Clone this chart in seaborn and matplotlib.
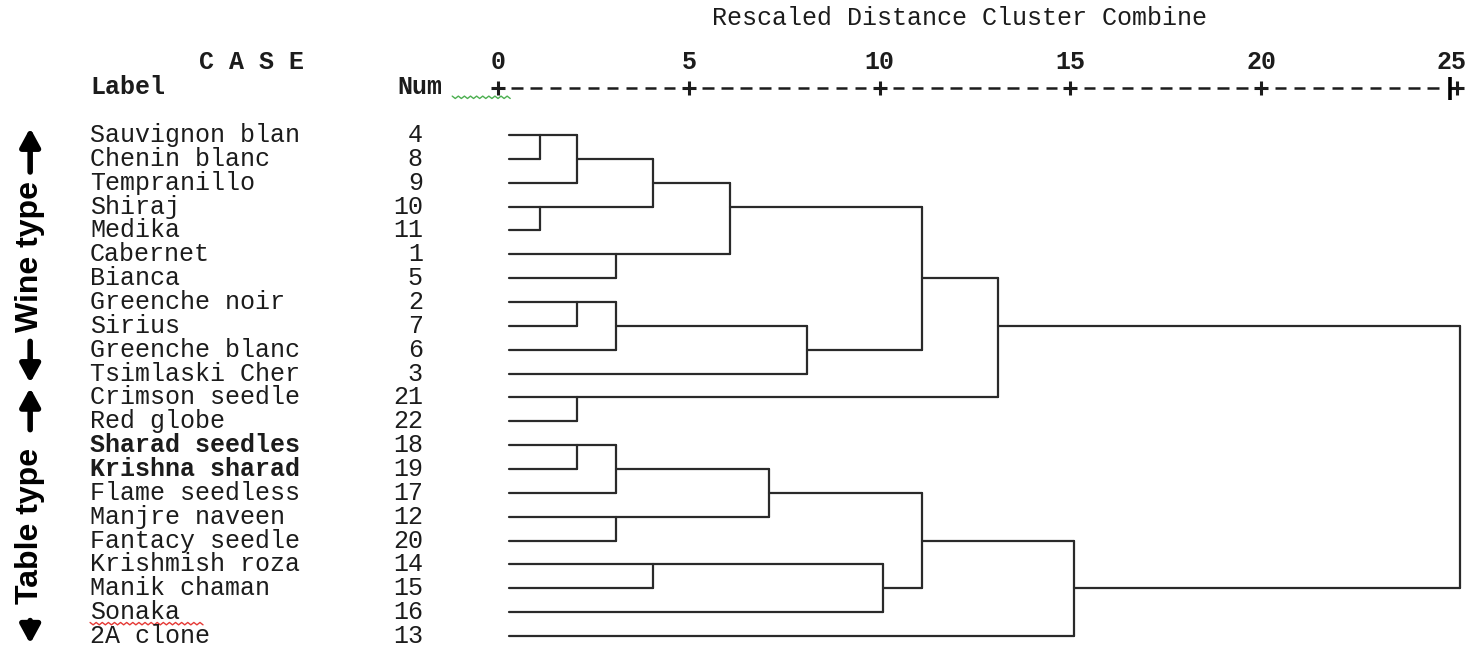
import numpy as np
import pandas as pd
import matplotlib
matplotlib.use("Agg")
import matplotlib.pyplot as plt
import seaborn as sns

# ---------------- data ----------------
labels = ["Sauvignon blan", "Chenin blanc", "Tempranillo", "Shiraj", "Medika",
          "Cabernet", "Bianca", "Greenche noir", "Sirius", "Greenche blanc",
          "Tsimlaski Cher", "Crimson seedle", "Red globe", "Sharad seedles",
          "Krishna sharad", "Flame seedless", "Manjre naveen", "Fantacy seedle",
          "Krishmish roza", "Manik chaman", "Sonaka", "2A clone"]
case_nums = [4, 8, 9, 10, 11, 1, 5, 2, 7, 6, 3, 21, 22, 18, 19, 17, 12, 20, 14, 15, 16, 13]

# agglomeration schedule (leaf ids 0..21 in display order, merged clusters 22..)
merge_a = [0, 3, 7, 11, 13, 22, 5, 24, 26, 16, 18, 27, 33, 30, 29, 32, 34, 35, 38, 39, 40]
merge_b = [1, 4, 8, 12, 14, 2, 6, 9, 15, 17, 19, 23, 28, 31, 10, 20, 36, 37, 25, 21, 41]
merge_h = [1.1, 1.1, 2.07, 2.07, 2.07, 2.07, 3.1, 3.1, 3.1, 3.1, 4.07, 4.07,
           6.09, 7.1, 8.1, 10.1, 11.1, 11.1, 13.1, 15.1, 25.2]

axis_ticks = [0, 5, 10, 15, 20, 25]
title = "Rescaled Distance Cluster Combine"
group_names = ["Wine type", "Table type"]

# ---------------- style ----------------
sns.set_theme(style="white")
plt.rcParams["font.family"] = ["Liberation Mono", "DejaVu Sans Mono"]

W, H = 1471, 647
fig = plt.figure(figsize=(W / 100, H / 100), dpi=100)
ax = fig.add_axes([0, 0, 1, 1])

# pixel-calibrated limits: x=0 at px 498, 38.16 px per unit; row 0 at px 135, 23.86 px per row
px_unit, x0_px = 38.16, 498.0
row_px, r0_px = 23.86, 135.0
xlim = (-x0_px / px_unit, (W - x0_px) / px_unit)
ylim = ((H - r0_px) / row_px, -r0_px / row_px)

# ---------------- dendrogram segments ----------------
leaf_start = 0.3
n = len(labels)
node_x = {i: leaf_start for i in range(n)}
node_r = {i: i for i in range(n)}
rows = []
seg = 0
for k, (a, b, h) in enumerate(zip(merge_a, merge_b, merge_h)):
    ra, rb = node_r[a], node_r[b]
    for (xs, ys) in [((node_x[a], h), (ra, ra)),
                     ((node_x[b], h), (rb, rb)),
                     ((h, h), (ra, rb))]:
        for xx, yy in zip(xs, ys):
            rows.append({"seg": seg, "x": xx, "y": yy})
        seg += 1
    node_x[n + k] = h
    node_r[n + k] = (min(ra, rb) + max(ra, rb)) // 2
seg_df = pd.DataFrame(rows)

line_col = "#2a2a2a"
sns.lineplot(data=seg_df, x="x", y="y", units="seg", estimator=None, sort=False,
             color=line_col, linewidth=1.6, ax=ax, legend=False)

# ---------------- text columns ----------------
txt_col = "#1c1c1c"
fs = 18
for i, (lab, num) in enumerate(zip(labels, case_nums)):
    bold = lab in ("Sharad seedles", "Krishna sharad")
    ax.text(-10.69, i, lab, ha="left", va="center", fontsize=fs, color=txt_col,
            fontweight="bold" if bold else "normal")
    ax.text(-1.97, i, str(num), ha="right", va="center", fontsize=fs, color=txt_col)

# header
ax.text(12.1, -4.9, title, ha="center", va="center", fontsize=fs, color=txt_col)
ax.text(-6.47, -3.06, "C A S E", ha="center", va="center", fontsize=fs,
        color=txt_col, fontweight="bold")
ax.text(-10.69, -2.01, "Label", ha="left", va="center", fontsize=fs, color=txt_col,
        fontweight="bold")
ax.text(-2.65, -2.01, "Num", ha="left", va="center", fontsize=fs, color=txt_col,
        fontweight="bold")
for t in axis_ticks:
    ax.text(t, -3.06, str(t), ha="center", va="center", fontsize=fs, color=txt_col,
            fontweight="bold")

# ruler "+---------+---------+ ..."
ruler_r = -1.97
cells = np.arange(0.5, 25.0, 0.5)
dash_c = [c for c in cells if c % 5 != 0]
ax.hlines([ruler_r] * len(dash_c), [c - 0.15 for c in dash_c], [c + 0.15 for c in dash_c],
          color=txt_col, linewidth=1.8)
ax.plot(axis_ticks[:-1], [ruler_r] * (len(axis_ticks) - 1), linestyle="none", marker="+",
        markersize=10, markeredgewidth=2.2, color=txt_col)
ax.plot([25.12], [ruler_r], linestyle="none", marker="+", markersize=10,
        markeredgewidth=2.2, color=txt_col)
ax.vlines([24.95], ruler_r - 0.45, ruler_r + 0.5, color="black", linewidth=2.6)

# spell-check squiggles
zig_x = np.arange(-1.2, 0.36, 0.08)
zig_y = -1.58 + np.where(np.arange(len(zig_x)) % 2 == 0, -0.05, 0.05)
ax.plot(zig_x, zig_y, color="#4caf50", linewidth=1.0)
zig_x2 = np.arange(-10.69, -7.7, 0.08)
zig_y2 = 20.48 + np.where(np.arange(len(zig_x2)) % 2 == 0, -0.05, 0.05)
ax.plot(zig_x2, zig_y2, color="#e53935", linewidth=1.0)

# ---------------- group annotations ----------------
grp_x = -12.26
grp_font = ["Liberation Sans Narrow", "Liberation Sans", "DejaVu Sans"]
groups = [(group_names[0], 5.11, -0.29, 1.55, 8.65, 10.39),
          (group_names[1], 16.39, 10.60, 12.35, 20.35, 21.32)]
for name, rc, tip_up, start_up, start_dn, tip_dn in groups:
    ax.text(grp_x, rc, name, rotation=90, ha="center", va="center", fontsize=23,
            fontweight="bold", color="black", family=grp_font)
    for s, e in [(start_up, tip_up), (start_dn, tip_dn)]:
        ax.annotate("", xy=(grp_x, e), xytext=(grp_x, s),
                    arrowprops=dict(arrowstyle="-|>,head_length=0.55,head_width=0.3",
                                    lw=4, color="black", shrinkA=0, shrinkB=0,
                                    mutation_scale=20))

ax.set_xlim(*xlim)
ax.set_ylim(*ylim)
ax.set_axis_off()
fig.savefig("out.png", dpi=100, facecolor="white")
